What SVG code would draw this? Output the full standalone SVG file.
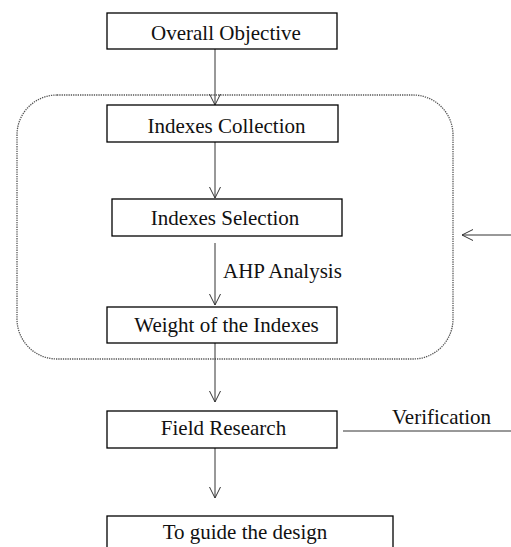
<svg xmlns="http://www.w3.org/2000/svg" width="511" height="547" viewBox="0 0 511 547">
<defs>
<style>
.box{fill:#fff;stroke:#000;stroke-width:1.3}
.t{font-family:"Liberation Serif","Times New Roman",serif;font-size:21px;fill:#111;text-anchor:middle}
.l{font-family:"Liberation Serif","Times New Roman",serif;font-size:21px;fill:#111}
.c{fill:none;stroke:#333;stroke-width:1}
</style>
<marker id="ah" viewBox="0 0 12 12" refX="11" refY="6" markerWidth="12" markerHeight="12" markerUnits="userSpaceOnUse" orient="auto">
<path d="M0,0.5 L11,6 L0,11.5" fill="none" stroke="#333" stroke-width="1"/>
</marker>
</defs>
<rect width="511" height="547" fill="#fff"/>
<rect id="group-boundary" x="17" y="95" width="436" height="264" rx="40" ry="40" fill="none" stroke="#555" stroke-width="1.3" stroke-dasharray="1.3 1"/>
<g id="connectors">
<line class="c" x1="215" y1="49" x2="215" y2="105" marker-end="url(#ah)"/>
<line class="c" x1="215" y1="142" x2="215" y2="198" marker-end="url(#ah)"/>
<line class="c" x1="215" y1="243" x2="215" y2="305" marker-end="url(#ah)"/>
<line class="c" x1="215" y1="343" x2="215" y2="402" marker-end="url(#ah)"/>
<line class="c" x1="215" y1="448" x2="215" y2="498" marker-end="url(#ah)"/>
<line class="c" x1="343" y1="431" x2="511" y2="431"/>
<line class="c" x1="511" y1="235" x2="462" y2="235" marker-end="url(#ah)"/>
<text class="l" x="223" y="278">AHP Analysis</text>
<text class="l" x="392" y="424">Verification</text>
</g>
<g id="overall-objective">
<rect class="box" x="107" y="13" width="230" height="36"/>
<text class="t" x="226" y="40">Overall Objective</text>
</g>
<g id="indexes-collection">
<rect class="box" x="107" y="105" width="231" height="37"/>
<text class="t" x="226.5" y="133">Indexes Collection</text>
</g>
<g id="indexes-selection">
<rect class="box" x="112" y="199" width="230" height="37"/>
<text class="t" x="225" y="225">Indexes Selection</text>
</g>
<g id="weight-of-indexes">
<rect class="box" x="107" y="307" width="230" height="36"/>
<text class="t" x="226.5" y="332">Weight of the Indexes</text>
</g>
<g id="field-research">
<rect class="box" x="107" y="411" width="230" height="37"/>
<text class="t" x="223.5" y="435">Field Research</text>
</g>
<g id="guide-design">
<rect class="box" x="107" y="516" width="286" height="40"/>
<text class="t" x="245" y="539">To guide the design</text>
</g>
</svg>
